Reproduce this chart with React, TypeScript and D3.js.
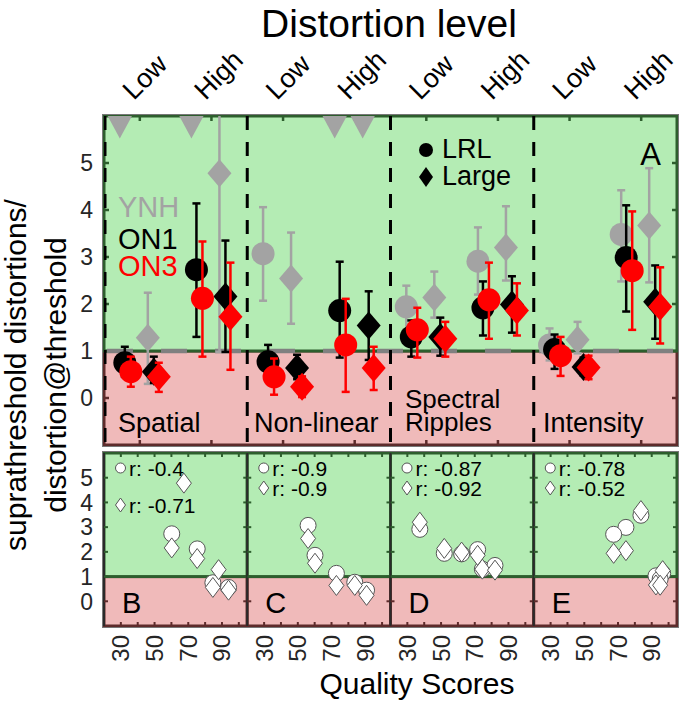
import React from 'react';
import * as d3 from 'd3';

const FONT = '"Liberation Sans", Arial, Helvetica, sans-serif';

const distortions = ['Spatial', 'Non-linear', 'Spectral Ripples', 'Intensity'];
const levels = ['Low', 'High'];
const groups = ['YNH', 'ON1', 'ON3'];
const devices = ['LRL', 'Large'];
const panelLetters = ['B', 'C', 'D', 'E'];
const yTicks = [0, 1, 2, 3, 4, 5];
const qualityTicks = [30, 50, 70, 90];

// ratio values, order: Spatial Low, Spatial High, Non-linear Low, Non-linear High,
// Spectral Low, Spectral High, Intensity Low, Intensity High. null = off the scale
const ynhLrlMean = [null, null, 3.07, null, 1.94, 2.91, 1.13, 3.48];
const ynhLrlLo = [null, null, 2.07, null, 1.45, 2.2, 0.8, 2.48];
const ynhLrlHi = [null, null, 4.06, null, 2.39, 3.63, 1.48, 4.42];

const ynhLargeMean = [1.28, 4.78, 2.54, null, 2.14, 3.2, 1.24, 3.67];
const ynhLargeLo = [0.3, 0.98, 1.58, null, 1.71, 2.5, 0.95, 2.46];
const ynhLargeHi = [2.24, 6.5, 3.52, null, 2.69, 4.08, 1.62, 4.89];

const on1LrlMean = [0.75, 2.73, 0.77, 1.86, 1.3, 1.92, 1.03, 2.99];
const on1LrlLo = [0.45, 1.3, 0.5, 0.86, 0.88, 1.33, 0.62, 1.84];
const on1LrlHi = [1.09, 4.14, 1.13, 2.9, 1.65, 2.48, 1.35, 4.1];

const on1LargeMean = [0.56, 2.16, 0.64, 1.54, 1.3, 1.99, 0.66, 2.05];
const on1LargeLo = [0.32, 0.98, 0.4, 0.81, 0.9, 1.39, 0.48, 1.26];
const on1LargeHi = [0.88, 3.35, 0.92, 2.27, 1.71, 2.59, 0.86, 2.82];

const on3LrlMean = [0.56, 2.12, 0.45, 1.13, 1.45, 2.09, 0.9, 2.71];
const on3LrlLo = [0.24, 0.88, 0.07, 0.13, 0.86, 1.26, 0.47, 1.45];
const on3LrlHi = [0.88, 3.33, 0.84, 2.11, 1.92, 2.88, 1.3, 3.97];

const on3LargeMean = [0.45, 1.73, 0.24, 0.64, 1.26, 1.86, 0.65, 1.94];
const on3LargeLo = [0.13, 0.6, 0.02, 0.17, 0.88, 1.33, 0.4, 1.16];
const on3LargeHi = [0.75, 2.88, 0.46, 1.09, 1.62, 2.44, 0.9, 2.78];

// quality scores per group, same order as above
const ynhQuality = [88, 67.4, 56.1, null, 51.9, 37.4, 96.5, 83.6];
const on1Quality = [84.6, 60.2, 83.8, 60.2, 74.5, 62.2, 92.5, 74.7];
const on3Quality = [93.9, 75.3, 90.8, 72.9, 82, 71.7, 95, 67.4];

const rLrl = ['-0.4', '-0.9', '-0.87', '-0.78'];
const rLarge = ['-0.71', '-0.9', '-0.92', '-0.52'];

const series = [
  { g: 0, dev: 0, mean: ynhLrlMean, lo: ynhLrlLo, hi: ynhLrlHi },
  { g: 0, dev: 1, mean: ynhLargeMean, lo: ynhLargeLo, hi: ynhLargeHi },
  { g: 1, dev: 0, mean: on1LrlMean, lo: on1LrlLo, hi: on1LrlHi },
  { g: 1, dev: 1, mean: on1LargeMean, lo: on1LargeLo, hi: on1LargeHi },
  { g: 2, dev: 0, mean: on3LrlMean, lo: on3LrlLo, hi: on3LrlHi },
  { g: 2, dev: 1, mean: on3LargeMean, lo: on3LargeLo, hi: on3LargeHi },
];
const quality = [ynhQuality, on1Quality, on3Quality];

const groupColors = ['#a3a3a3', '#000000', '#ff0000'];
const offsets = [[-20, -15, -9], [8, 14, 19]];
const GREEN = '#b4ecb4';
const RED = '#f0baba';
const GREEN_EDGE = '#2d5e2d';
const RED_EDGE = '#5e2b2b';

const diamond = (x: number, y: number, hw: number, hh: number) =>
  `M${x},${y - hh}L${x + hw},${y}L${x},${y + hh}L${x - hw},${y}Z`;

export default function App() {
  const xTop = d3.scaleLinear().domain([0.5, 8.5]).range([104, 677]);
  const yTop = d3.scaleLinear().domain([-1, 6]).range([445, 116]);
  const yBot = d3.scaleLinear().domain([-1, 6]).range([626, 453]);
  const xBot = (i: number) =>
    d3.scaleLinear().domain([20, 105]).range([xTop(2 * i + 0.5), xTop(2 * i + 2.5)]);

  const L = xTop(0.5), R = xTop(8.5);
  const T = yTop(6), B = yTop(-1), one = yTop(1);

  const topTicks = d3.range(1, 9);
  const sideTicks = d3.range(0, 6);

  return (
    <svg width={680} height={704} style={{ position: 'absolute', left: 0, top: 0, background: '#fff' }}
      fontFamily={FONT}>
      <defs>
        <clipPath id="clipTop"><rect x={L} y={T} width={R - L} height={B - T} /></clipPath>
        {distortions.map((_, i) => {
          const xs = xBot(i);
          return (
            <clipPath key={i} id={`clipBot${i}`}>
              <rect x={xs.range()[0]} y={yBot(6)} width={xs.range()[1] - xs.range()[0]} height={yBot(-1) - yBot(6)} />
            </clipPath>
          );
        })}
      </defs>

      <text x={389} y={37} textAnchor="middle" fontSize={39}>Distortion level</text>

      {topTicks.map((t) => (
        <text key={t} transform={`translate(${xTop(t) - 6},101) rotate(-45)`} fontSize={27}>
          {levels[(t - 1) % 2]}
        </text>
      ))}

      {/* top panel background */}
      <rect x={L} y={one} width={R - L} height={B - one} fill={RED} stroke={RED_EDGE} strokeWidth={3} />
      <rect x={L} y={T} width={R - L} height={one - T} fill={GREEN} stroke={GREEN_EDGE} strokeWidth={3} />

      {sideTicks.map((v) => {
        const c = v >= 1 ? GREEN_EDGE : RED_EDGE;
        return (
          <g key={v} stroke={c} strokeWidth={2.5}>
            <line x1={L} x2={L + 5} y1={yTop(v)} y2={yTop(v)} />
            <line x1={R} x2={R - 5} y1={yTop(v)} y2={yTop(v)} />
          </g>
        );
      })}
      {topTicks.map((t) => (
        <g key={t} strokeWidth={2.5}>
          <line x1={xTop(t)} x2={xTop(t)} y1={T} y2={T + 5} stroke={GREEN_EDGE} />
          <line x1={xTop(t)} x2={xTop(t)} y1={B} y2={B - 5} stroke={RED_EDGE} />
        </g>
      ))}

      {yTicks.map((v) => (
        <text key={v} x={93} y={yTop(v)} dy="0.36em" textAnchor="end" fontSize={23} fill="#262626">{v}</text>
      ))}

      <g clipPath="url(#clipTop)">
        <line x1={L} x2={R} y1={one} y2={one} stroke="#808080" strokeWidth={4.5} strokeDasharray="26 28" strokeDashoffset={-3} />
        {[0.5, 2.5, 4.5, 6.5].map((b) => (
          <line key={b} x1={xTop(b) + (b === 0.5 ? 1 : 0)} x2={xTop(b) + (b === 0.5 ? 1 : 0)} y1={T} y2={B}
            stroke="#000" strokeWidth={3} strokeDasharray="14 12" />
        ))}

        {series.map((s, si) => {
          const color = groupColors[s.g];
          return (
            <g key={si}>
              {s.mean.map((m, k) => {
                const x = xTop(k + 1) + offsets[s.dev][s.g];
                if (m === null) {
                  const cy = yTop(5.8);
                  return <path key={k} d={`M${x - 13},${cy - 11}L${x + 13},${cy - 11}L${x},${cy + 13}Z`} fill={color} />;
                }
                const y0 = yTop(s.lo[k] as number), y1 = yTop(s.hi[k] as number);
                const y = yTop(m);
                return (
                  <g key={k}>
                    <g stroke={color} strokeWidth={2.5}>
                      <line x1={x} x2={x} y1={y0} y2={y1} />
                      <line x1={x - 4} x2={x + 4} y1={y0} y2={y0} />
                      <line x1={x - 4} x2={x + 4} y1={y1} y2={y1} />
                    </g>
                    {s.dev === 0
                      ? <circle cx={x} cy={y} r={11.5} fill={color} />
                      : <path d={diamond(x, y, 12, 14)} fill={color} />}
                  </g>
                );
              })}
            </g>
          );
        })}
      </g>

      {/* group legend */}
      {groups.map((g, i) => (
        <text key={g} x={118} y={[217, 249, 276][i]} fontSize={29} fill={groupColors[i]}>{g}</text>
      ))}
      <circle cx={426} cy={150} r={7} fill="#000" />
      <text x={442} y={158} fontSize={27}>{devices[0]}</text>
      <path d={diamond(426, 177, 7, 10)} fill="#000" />
      <text x={442} y={185} fontSize={27}>{devices[1]}</text>
      <text x={661} y={165} textAnchor="end" fontSize={31}>A</text>

      <text x={118} y={432} fontSize={27}>{distortions[0]}</text>
      <text x={254} y={432} fontSize={27}>{distortions[1]}</text>
      <text x={405} y={408} fontSize={26}>{distortions[2].split(' ')[0]}</text>
      <text x={405} y={431} fontSize={26}>{distortions[2].split(' ')[1]}</text>
      <text x={543} y={432} fontSize={27}>{distortions[3]}</text>

      {/* y label */}
      <text transform="translate(26,375) rotate(-90)" textAnchor="middle" fontSize={30}>suprathreshold distortions/</text>
      <text transform="translate(66,375) rotate(-90)" textAnchor="middle" fontSize={30}>distortion@threshold</text>

      {/* bottom panels */}
      {yTicks.map((v) => (
        <text key={v} x={93} y={yBot(v)} dy="0.36em" textAnchor="end" fontSize={23} fill="#262626">{v}</text>
      ))}
      {distortions.map((d, i) => {
        const xs = xBot(i);
        const [x0, x1] = xs.range();
        const bt = yBot(6), bb = yBot(-1), b1 = yBot(1);
        const pts = groups.flatMap((_, g) =>
          levels.map((__, l) => ({ g, k: 2 * i + l, q: quality[g][2 * i + l] })));
        const valueOf = (dev: number, g: number, k: number) => series.find((s) => s.g === g && s.dev === dev)!.mean[k];
        return (
          <g key={d}>
            <rect x={x0} y={b1} width={x1 - x0} height={bb - b1} fill={RED} stroke={RED_EDGE} strokeWidth={3} />
            <rect x={x0} y={bt} width={x1 - x0} height={b1 - bt} fill={GREEN} stroke={GREEN_EDGE} strokeWidth={3} />
            <line x1={x0} x2={x0} y1={bt} y2={bb} stroke="#2a2a2a" strokeWidth={2} />
            {sideTicks.map((v) => (
              <g key={v} stroke={v >= 1 ? GREEN_EDGE : RED_EDGE} strokeWidth={2}>
                <line x1={x0} x2={x0 + 4} y1={yBot(v)} y2={yBot(v)} />
                <line x1={x1} x2={x1 - 4} y1={yBot(v)} y2={yBot(v)} />
              </g>
            ))}
            {d3.range(30, 101, 10).map((q) => (
              <g key={q} strokeWidth={2}>
                <line x1={xs(q)} x2={xs(q)} y1={bt} y2={bt + 4} stroke={GREEN_EDGE} />
                <line x1={xs(q)} x2={xs(q)} y1={bb} y2={bb - 4} stroke={RED_EDGE} />
              </g>
            ))}
            {qualityTicks.map((q) => (
              <text key={q} transform={`translate(${xs(q) + 8.5},635) rotate(-90)`} textAnchor="end" fontSize={24} fill="#262626">{q}</text>
            ))}
            <g clipPath={`url(#clipBot${i})`} stroke="#555" strokeWidth={1}>
              {pts.map((p, j) => {
                const v = valueOf(0, p.g, p.k);
                if (p.q === null || v === null) return null;
                return <circle key={j} cx={xs(p.q)} cy={yBot(v)} r={8} fill="#fff" />;
              })}
              {pts.map((p, j) => {
                const v = valueOf(1, p.g, p.k);
                if (p.q === null || v === null) return null;
                return <path key={j} d={diamond(xs(p.q), yBot(v), 7.5, 10)} fill="#fff" />;
              })}
            </g>
            <circle cx={x0 + 16.5} cy={468} r={5} fill="#fff" stroke="#555" />
            <text x={x0 + 25} y={476} fontSize={21}>r: {rLrl[i]}</text>
            <path d={diamond(x0 + 16.5, i === 0 ? 505 : 488, 5, 7)} fill="#fff" stroke="#555" />
            <text x={x0 + 25} y={i === 0 ? 513 : 496} fontSize={21}>r: {rLarge[i]}</text>
            <text x={x0 + 18} y={613} fontSize={29}>{panelLetters[i]}</text>
          </g>
        );
      })}
      <rect x={L - 1.5} y={yBot(6) - 1.5} width={R - L + 3} height={yBot(-1) - yBot(6) + 3} fill="none" stroke="#777" strokeWidth={1} />
      <rect x={L - 1.5} y={T - 1.5} width={R - L + 3} height={B - T + 3} fill="none" stroke="#777" strokeWidth={1} />

      <text x={417} y={694} textAnchor="middle" fontSize={30}>Quality Scores</text>
    </svg>
  );
}
